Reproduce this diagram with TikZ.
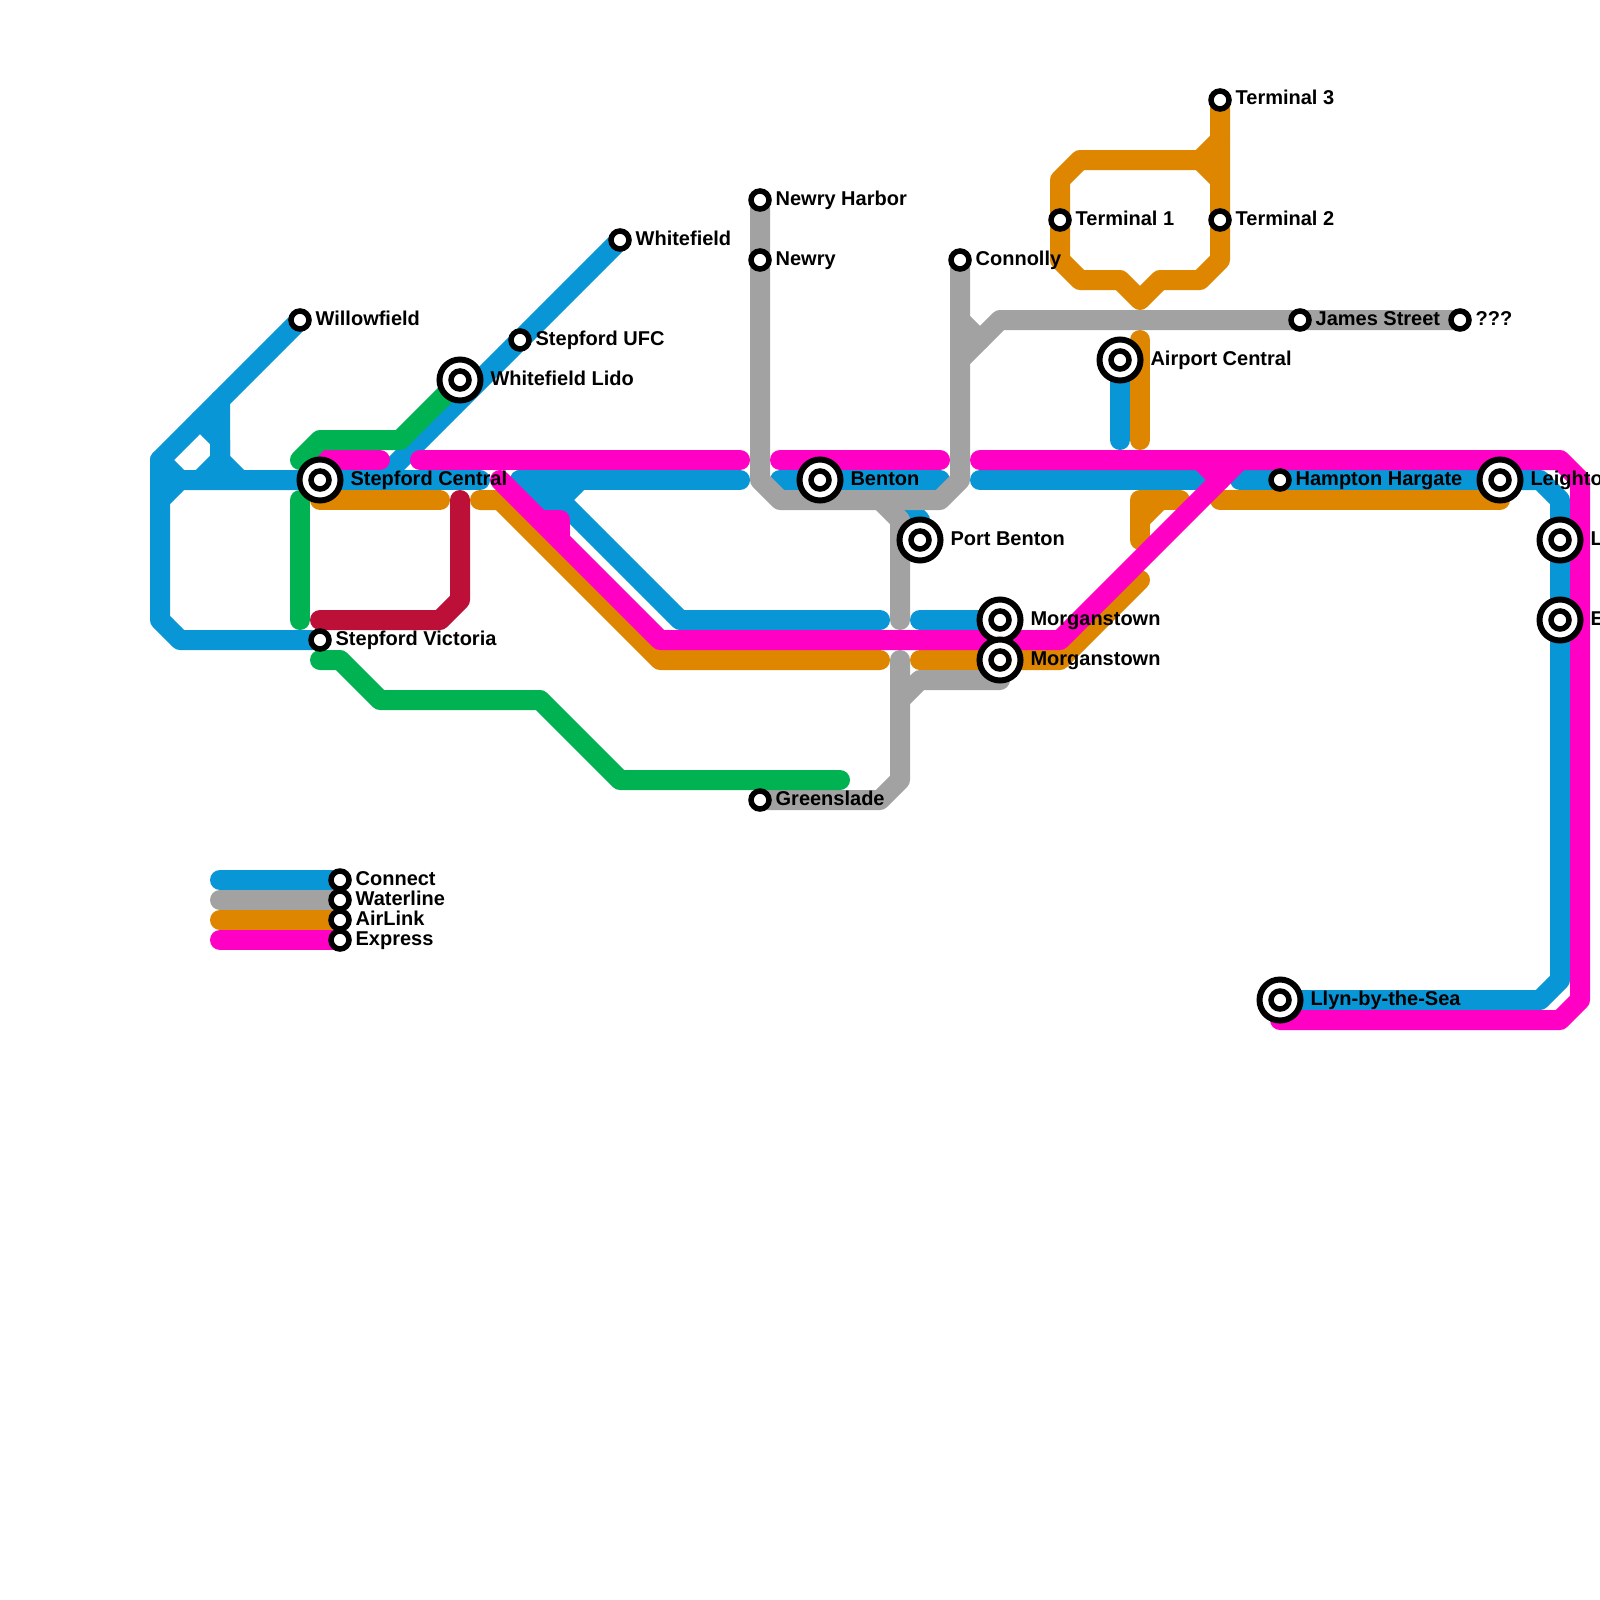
\documentclass[tikz,border=0pt]{standalone}
\usepackage{fontspec}
\setmainfont{Liberation Sans}
\usetikzlibrary{positioning}
\definecolor{connect}{HTML}{0896D7}
\definecolor{waterline}{HTML}{A2A2A2}
\definecolor{airlink}{HTML}{DF8600}
\definecolor{express}{HTML}{FF00C4}
\definecolor{greenline}{HTML}{00B251}
\definecolor{redline}{HTML}{BD1038}
\tikzset{
  metroline/.style={line width=20pt,line cap=round,line join=round},
  stopmark/.style={circle,draw=black,fill=white,line width=5.5pt,inner sep=0pt,minimum size=18pt},
  hubmark/.style={circle,draw=black,fill=white,line width=6pt,inner sep=0pt,minimum size=41pt},
  stoptext/.style={inner sep=0pt,outer sep=0pt,text height=15pt,text depth=5pt,font=\fontsize{20pt}{24pt}\selectfont\bfseries}
}
\begin{document}
\begin{tikzpicture}[x=20pt,y=-20pt]
  \useasboundingbox (0,0) rectangle (80,80);
  \clip (0,0) rectangle (80,80);
  \coordinate (willowfield) at (15,16);
  \coordinate (whitefield) at (31,12);
  \coordinate (stepfordufc) at (26,17);
  \coordinate (victoria) at (16,32);
  \coordinate (newryharbor) at (38,10);
  \coordinate (newry) at (38,13);
  \coordinate (connolly) at (48,13);
  \coordinate (terminalone) at (53,11);
  \coordinate (terminaltwo) at (61,11);
  \coordinate (terminalthree) at (61,5);
  \coordinate (jamesstreet) at (65,16);
  \coordinate (unknownstop) at (73,16);
  \coordinate (hampton) at (64,24);
  \coordinate (greenslade) at (38,40);
  \coordinate (central) at (16,24);
  \coordinate (lido) at (23,19);
  \coordinate (benton) at (41,24);
  \coordinate (portbenton) at (46,27);
  \coordinate (morganupper) at (50,31);
  \coordinate (morganlower) at (50,33);
  \coordinate (airport) at (56,18);
  \coordinate (leighton) at (75,24);
  \coordinate (stopl) at (78,27);
  \coordinate (stope) at (78,31);
  \coordinate (llyn) at (64,50);
  \coordinate (keyconnect) at (17,44);
  \coordinate (keywaterline) at (17,45);
  \coordinate (keyairlink) at (17,46);
  \coordinate (keyexpress) at (17,47);

  \draw[metroline,connect] (willowfield)--(8,23)--(8,31)--(9,32)--(victoria);
  \draw[metroline,connect] (8,25)--(9,24)--(central);
  \draw[metroline,connect] (8,23)--(9,24);
  \draw[metroline,connect] (10,21)--(11,22)--(11,23)--(12,24);
  \draw[metroline,connect] (11,20)--(11,23)--(10,24);
  \draw[metroline,connect] (central)--(24,24);
  \draw[metroline,connect] (whitefield)--(19,24);
  \draw[metroline,connect] (26,24)--(37,24);
  \draw[metroline,connect] (26,24)--(27,25)--(28,25)--(29,24);
  \draw[metroline,connect] (27,24)--(34,31)--(44,31);
  \draw[metroline,connect] (39,24)--(47,24);
  \draw[metroline,connect] (45,25)--(46,26)--(portbenton);
  \draw[metroline,connect] (46,31)--(morganupper);
  \draw[metroline,connect] (airport)--(56,22);
  \draw[metroline,connect] (49,24)--(60,24);
  \draw[metroline,connect] (62,24)--(77,24)--(78,25)--(78,49)--(77,50)--(llyn);

  \draw[metroline,airlink] (16,25)--(22,25);
  \draw[metroline,airlink] (24,25)--(25,25)--(33,33)--(44,33);
  \draw[metroline,airlink] (46,33)--(53,33)--(57,29);
  \draw[metroline,airlink] (57,27)--(57,25)--(59,25);
  \draw[metroline,airlink] (57,26)--(58,25);
  \draw[metroline,airlink] (61,25)--(75,25);
  \draw[metroline,airlink] (57,17)--(57,22);
  \draw[metroline,airlink] (terminalthree)--(61,13)--(60,14)--(58,14)--(57,15)--(56,14)--(54,14)--(53,13)--(53,9)--(54,8)--(60,8)--(61,9);
  \draw[metroline,airlink] (61,7)--(60,8);

  \draw[metroline,waterline] (newryharbor)--(38,24)--(39,25)--(47,25)--(48,24)--(connolly);
  \draw[metroline,waterline] (44,25)--(45,26)--(45,31);
  \draw[metroline,waterline] (45,33)--(45,39)--(44,40)--(greenslade);
  \draw[metroline,waterline] (50,34)--(46,34)--(45,35);
  \draw[metroline,waterline] (48,18)--(50,16)--(unknownstop);
  \draw[metroline,waterline] (48,16)--(49,17);

  \draw[metroline,express] (16,23)--(19,23);
  \draw[metroline,express] (21,23)--(37,23);
  \draw[metroline,express] (39,23)--(47,23);
  \draw[metroline,express] (49,23)--(78,23)--(79,24)--(79,50)--(78,51)--(64,51);
  \draw[metroline,express] (25,24)--(33,32)--(53,32)--(62,23);
  \draw[metroline,express] (27,26)--(28,26)--(28,27);
  \draw[metroline,express] (60,23)--(61,24);

  \draw[metroline,greenline] (15,23)--(16,22)--(20,22)--(lido);
  \draw[metroline,greenline] (15,25)--(15,31);
  \draw[metroline,greenline] (16,33)--(17,33)--(19,35)--(27,35)--(31,39)--(42,39);
  \draw[metroline,redline] (16,31)--(22,31)--(23,30)--(23,25);

  \draw[metroline,connect] (11,44)--(keyconnect);
  \draw[metroline,waterline] (11,45)--(keywaterline);
  \draw[metroline,airlink] (11,46)--(keyairlink);
  \draw[metroline,express] (11,47)--(keyexpress);

  \foreach \id/\lab in {central/Stepford Central,lido/Whitefield Lido,benton/Benton,portbenton/Port Benton,morganupper/Morganstown,morganlower/Morganstown,airport/Airport Central,leighton/Leighto,stopl/L,stope/E,llyn/Llyn-by-the-Sea}{
    \node[hubmark] (\id ring) at (\id) {};
    \node[stopmark] (\id dot) at (\id) {};
    \node[stoptext,right=7pt of \id ring] (\id text) {\lab};
  }
  \foreach \id/\lab in {willowfield/Willowfield,whitefield/Whitefield,stepfordufc/Stepford UFC,victoria/Stepford Victoria,newryharbor/Newry Harbor,newry/Newry,connolly/Connolly,terminalone/Terminal 1,terminaltwo/Terminal 2,terminalthree/Terminal 3,jamesstreet/James Street,unknownstop/???,hampton/Hampton Hargate,greenslade/Greenslade,keyconnect/Connect,keywaterline/Waterline,keyairlink/AirLink,keyexpress/Express}{
    \node[stopmark] (\id dot) at (\id) {};
    \node[stoptext,right=3.9pt of \id dot] (\id text) {\lab};
  }
\end{tikzpicture}
\end{document}
